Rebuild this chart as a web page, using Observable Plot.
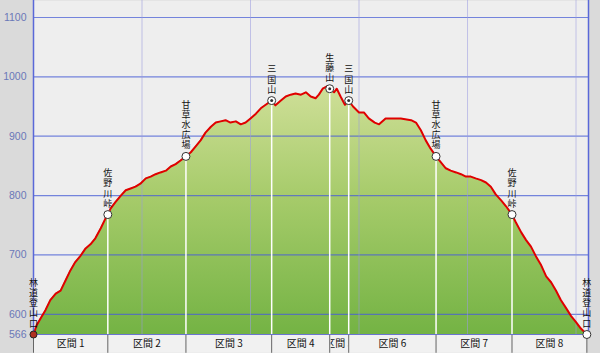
<!DOCTYPE html>
<html><head><meta charset="utf-8">
<script src="https://cdn.jsdelivr.net/npm/d3@7"></script>
<script src="https://cdn.jsdelivr.net/npm/@observablehq/plot@0.6"></script>
<style>html,body{margin:0;padding:0;background:#fff} svg{display:block}</style>
</head><body><div id="chart"></div><script>
// Profile: distance (km) and elevation (m)
const dist = [0,0.055,0.13,0.22,0.31,0.41,0.50,0.59,0.68,0.77,0.87,0.96,1.05,1.14,1.24,1.33,1.37,1.42,1.51,1.61,1.70,1.79,1.88,1.97,2.07,2.16,2.25,2.34,2.44,2.53,2.62,2.71,2.81,2.90,2.99,3.08,3.17,3.27,3.36,3.45,3.54,3.63,3.73,3.82,3.91,4.00,4.10,4.19,4.28,4.39,4.46,4.56,4.65,4.74,4.83,4.93,5.02,5.11,5.20,5.26,5.33,5.41,5.46,5.54,5.59,5.66,5.74,5.81,5.89,6.00,6.09,6.18,6.29,6.37,6.49,6.59,6.77,6.96,7.05,7.14,7.23,7.32,7.42,7.51,7.60,7.69,7.79,7.88,7.97,8.06,8.15,8.25,8.34,8.43,8.52,8.62,8.71,8.82,8.89,8.99,9.08,9.17,9.26,9.35,9.45,9.54,9.63,9.72,9.82,9.91,10.00,10.09,10.20];
const elev = [566,581,593,607,624,635,640,657,674,688,699,711,718,728,745,762,768,778,789,800,809,812,815,820,829,832,836,839,842,849,853,859,866,873,883,893,906,916,923,925,927,923,925,920,923,930,938,947,953,960,952,960,967,970,972,970,974,967,964,970,980,984,980,974,980,967,953,960,950,940,940,930,923,920,930,930,930,927,923,910,893,879,866,856,846,842,839,836,832,832,829,826,822,815,802,792,782,768,755,738,725,714,698,684,664,654,640,624,610,597,587,576,566];

// Waypoints
const wpName = ["林道登山口","佐野川峠","甘草水広場","三国山","生藤山","三国山","甘草水広場","佐野川峠","林道登山口"];
const wpDist = [0,1.37,2.81,4.39,5.46,5.81,7.42,8.82,10.20];
const wpElev = [566,768,866,960,980,960,866,768,566];
const wpType = ["start","pass","pass","peak","peak","peak","pass","pass","end"];

// Sections
const sectionNames = ["区間 1","区間 2","区間 3","区間 4","区間 5","区間 6","区間 7","区間 8"];

// Axis ticks
const yTicks = [566,600,700,800,900,1000,1100];
const yGrid = [600,700,800,900,1000,1100];
const xGrid = [2,4,6,8,10];

const xMin = 0, xMax = 10.23, yMin = 566, yMax = 1128.6, bandBottom = 534.3;

const profile = dist.map((d,i) => ({d, e: elev[i]}));
const waypoints = wpName.map((n,i) => ({name: n, label: [...n].join("\n"), d: wpDist[i], e: wpElev[i], type: wpType[i]}));
const sections = sectionNames.map((n,i) => ({name: n, d1: wpDist[i], d2: wpDist[i+1], mid: (wpDist[i]+wpDist[i+1])/2}));

const chart = Plot.plot({
  width: 600, height: 353,
  marginLeft: 33, marginRight: 12, marginTop: 0, marginBottom: 19,
  style: {background: "#dadada", fontFamily: "'Noto Sans CJK JP', sans-serif", overflow: "visible"},
  x: {domain: [xMin, xMax], axis: null},
  y: {domain: [yMin, yMax]},
  marks: [
    Plot.frame({fill: "#eeeeee", stroke: null}),
    Plot.rect(sections, {x1: "d1", x2: "d2", y1: bandBottom, y2: yMin, fill: "#f1f1f1"}),
    Plot.areaY(profile, {x: "d", y1: yMin, y2: "e", fill: "url(#elevGrad)"}),
    Plot.gridY({ticks: yGrid, stroke: "#4a5fd6", strokeOpacity: 0.75, strokeWidth: 1.2}),
    Plot.gridX({ticks: xGrid, stroke: "#9a9ae0", strokeOpacity: 0.55}),
    Plot.ruleX(waypoints.filter(w => w.type !== "start"), {x: "d", y1: yMin, y2: "e", stroke: "white", strokeWidth: 1.5}),
    Plot.line(profile, {x: "d", y: "e", stroke: "#e00000", strokeWidth: 2}),
    Plot.ruleX(wpDist, {y1: bandBottom, y2: yMin, stroke: "#666", strokeWidth: 1}),
    Plot.ruleY([yMin], {stroke: "#6a74d0", strokeWidth: 1.2}),
    Plot.ruleX([xMin], {y1: yMin, y2: yMax, stroke: "#5a68d8", strokeWidth: 1.5}),
    Plot.ruleX([xMax], {y1: yMin, y2: yMax, stroke: "#5a68d8", strokeWidth: 1.5}),
    Plot.dot(waypoints.filter(w => w.type !== "start"), {x: "d", y: "e", r: 4, fill: "white", stroke: "#333", strokeWidth: 1}),
    Plot.dot(waypoints.filter(w => w.type === "peak"), {x: "d", y: "e", r: 1.5, fill: "#333"}),
    Plot.dot(waypoints.filter(w => w.type === "start"), {x: "d", y: "e", r: 3.5, fill: "#b03020", stroke: "#222", strokeWidth: 1}),
    Plot.text(waypoints, {x: "d", y: "e", text: "label", dy: -8, lineAnchor: "bottom", lineHeight: 1.12, fontSize: 9, fill: "#111", fontFamily: "'Liberation Sans', 'Noto Sans CJK JP', sans-serif"}),
    Plot.text(sections, {x: "mid", y: (bandBottom + yMin) / 2, text: "name", fontSize: 10, fill: "#111"}),
    Plot.axisY({ticks: yTicks, tickFormat: d => String(d), tickSize: 0, tickPadding: 7, fill: "#6a78b8", fontSize: 10.5, fontFamily: "'Liberation Sans', Arial, sans-serif", label: null})
  ]
});

// gradient and clip definitions
const ns = "http://www.w3.org/2000/svg";
const defs = document.createElementNS(ns, "defs");
const grad = document.createElementNS(ns, "linearGradient");
grad.setAttribute("id", "elevGrad");
grad.setAttribute("x1", "0"); grad.setAttribute("y1", "0");
grad.setAttribute("x2", "0"); grad.setAttribute("y2", "1");
[["0", "#cfdf98"], ["0.45", "#a6cb6a"], ["1", "#74b344"]].forEach(([o, c]) => {
  const s = document.createElementNS(ns, "stop");
  s.setAttribute("offset", o); s.setAttribute("stop-color", c);
  grad.appendChild(s);
});
defs.appendChild(grad);
const xs = chart.scale("x"), ys = chart.scale("y");
const cp = document.createElementNS(ns, "clipPath");
cp.setAttribute("id", "sec5clip");
cp.setAttribute("clipPathUnits", "userSpaceOnUse");
const cr = document.createElementNS(ns, "rect");
const x1 = xs.apply(sections[4].d1), x2 = xs.apply(sections[4].d2);
cr.setAttribute("x", x1 + 1); cr.setAttribute("width", x2 - x1 - 2);
cr.setAttribute("y", ys.apply(yMin)); cr.setAttribute("height", ys.apply(bandBottom) - ys.apply(yMin));
cp.appendChild(cr);
defs.appendChild(cp);
chart.insertBefore(defs, chart.firstChild);
// clip the narrow section-5 label to its cell
chart.querySelectorAll("text").forEach(t => {
  if (t.textContent === sections[4].name) {
    const wrap = document.createElementNS(ns, "g");
    wrap.setAttribute("clip-path", "url(#sec5clip)");
    t.parentNode.insertBefore(wrap, t);
    wrap.appendChild(t);
  }
});

document.getElementById("chart").appendChild(chart);
</script></body></html>
